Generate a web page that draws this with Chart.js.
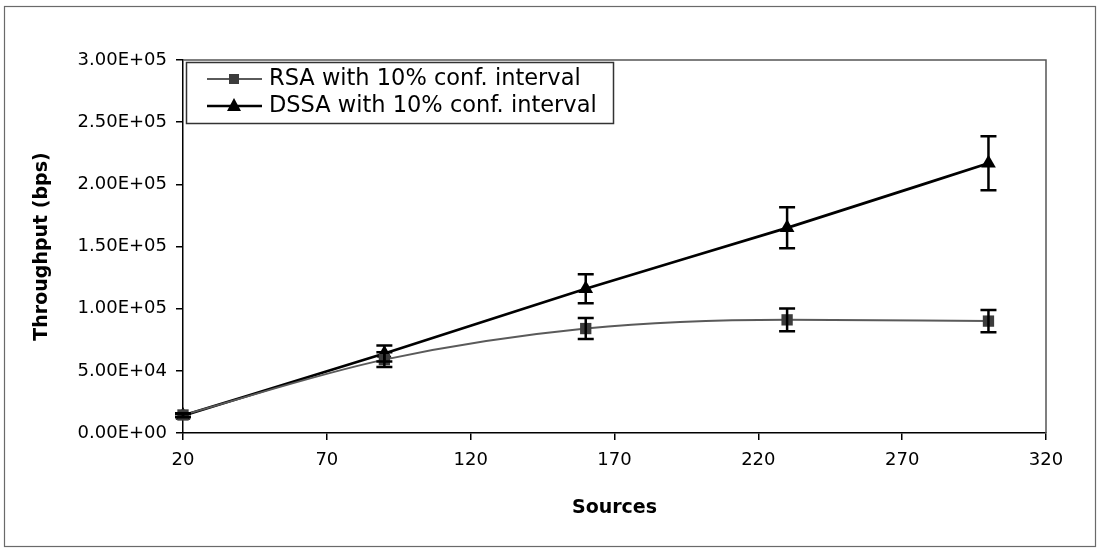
<!DOCTYPE html>
<html>
<head>
<meta charset="utf-8">
<script src="https://cdn.jsdelivr.net/npm/chart.js@4.4.1/dist/chart.umd.min.js"></script>
<style>
html,body{margin:0;padding:0;background:#fff;}
#wrap{width:1101px;height:552px;position:relative;}
canvas{display:block;}
</style>
</head>
<body>
<div id="wrap"><canvas id="c" width="1101" height="552"></canvas></div>
<script>
// ---- data ----
const sources = [20, 90, 160, 230, 300];
const rsaValues = [14500, 59000, 84000, 91000, 90000];
const rsaErrors = [1450, 5900, 8400, 9100, 9000];
const dssaValues = [14000, 64000, 116000, 165000, 217000];
const dssaErrors = [1400, 6400, 11600, 16500, 21700];
const xTicks = [20, 70, 120, 170, 220, 270, 320];
const yTicks = [0, 50000, 100000, 150000, 200000, 250000, 300000];
const seriesNames = ['RSA with 10% conf. interval', 'DSSA with 10% conf. interval'];
const xTitle = 'Sources';
const yTitle = 'Throughput (bps)';

function sci(v) {
  if (v === 0) return '0.00E+00';
  const e = Math.floor(Math.log10(v) + 1e-9);
  const m = v / Math.pow(10, e);
  return m.toFixed(2) + 'E+' + String(e).padStart(2, '0');
}

const FONT = 'DejaVu Sans';
const RSA_LINE = '#5a5a5a';
const RSA_FILL = '#3c3c3c';

const errorsByDataset = [rsaErrors, dssaErrors];

const decorPlugin = {
  id: 'decor',
  beforeDraw(chart) {
    const ctx = chart.ctx;
    ctx.save();
    ctx.fillStyle = '#fff';
    ctx.fillRect(0, 0, chart.width, chart.height);
    ctx.strokeStyle = '#6a6a6a';
    ctx.lineWidth = 1.2;
    ctx.strokeRect(4.5, 6.5, 1091, 540);
    ctx.restore();
  },
  beforeDatasetsDraw(chart) {
    const ctx = chart.ctx;
    const a = chart.chartArea;
    ctx.save();
    ctx.strokeStyle = '#555';
    ctx.lineWidth = 1.5;
    ctx.beginPath();
    ctx.moveTo(a.left, a.top);
    ctx.lineTo(a.right, a.top);
    ctx.lineTo(a.right, a.bottom);
    ctx.stroke();
    ctx.restore();
  },
  afterDatasetsDraw(chart) {
    const ctx = chart.ctx;
    const ys = chart.scales.y;
    ctx.save();
    ctx.strokeStyle = '#000';
    ctx.lineWidth = 2.5;
    chart.data.datasets.forEach((ds, di) => {
      const meta = chart.getDatasetMeta(di);
      const errs = errorsByDataset[di];
      meta.data.forEach((pt, i) => {
        const v = ds.data[i].y;
        const x = pt.x;
        const yt = ys.getPixelForValue(v + errs[i]);
        const yb = ys.getPixelForValue(v - errs[i]);
        ctx.beginPath();
        ctx.moveTo(x, yt); ctx.lineTo(x, yb);
        ctx.moveTo(x - 8, yt); ctx.lineTo(x + 8, yt);
        ctx.moveTo(x - 8, yb); ctx.lineTo(x + 8, yb);
        ctx.stroke();
      });
    });
    ctx.restore();
  },
  afterDraw(chart) {
    const ctx = chart.ctx;
    ctx.save();
    // legend box
    ctx.fillStyle = '#fff';
    ctx.fillRect(186.5, 62.5, 427, 61);
    ctx.strokeStyle = '#333';
    ctx.lineWidth = 1.5;
    ctx.strokeRect(186.5, 62.5, 427, 61);
    const rows = [79, 106];
    const mx = 234;
    // RSA row
    ctx.strokeStyle = RSA_LINE; ctx.lineWidth = 2;
    ctx.beginPath(); ctx.moveTo(207, rows[0]); ctx.lineTo(262, rows[0]); ctx.stroke();
    ctx.fillStyle = RSA_FILL;
    ctx.fillRect(mx - 5, rows[0] - 5, 10, 10);
    // DSSA row
    ctx.strokeStyle = '#000'; ctx.lineWidth = 2.5;
    ctx.beginPath(); ctx.moveTo(207, rows[1]); ctx.lineTo(262, rows[1]); ctx.stroke();
    ctx.fillStyle = '#000';
    ctx.beginPath();
    ctx.moveTo(mx, rows[1] - 8); ctx.lineTo(mx + 7, rows[1] + 5); ctx.lineTo(mx - 7, rows[1] + 5); ctx.closePath(); ctx.fill();
    ctx.fillStyle = '#000';
    ctx.font = '22.5px "' + FONT + '"';
    ctx.textBaseline = 'middle';
    ctx.textAlign = 'left';
    ctx.fillText(seriesNames[0], 269, rows[0]);
    ctx.fillText(seriesNames[1], 269, rows[1]);
    ctx.restore();
  }
};

const chart = new Chart(document.getElementById('c'), {
  type: 'line',
  data: {
    datasets: [
      {
        label: seriesNames[0],
        data: sources.map((s, i) => ({ x: s, y: rsaValues[i] })),
        borderColor: RSA_LINE,
        borderWidth: 2,
        backgroundColor: RSA_FILL,
        pointStyle: 'rect',
        pointRadius: 8,
        pointBorderWidth: 0,
        pointBackgroundColor: RSA_FILL,
        cubicInterpolationMode: 'monotone',
        clip: false
      },
      {
        label: seriesNames[1],
        data: sources.map((s, i) => ({ x: s, y: dssaValues[i] })),
        borderColor: '#000',
        borderWidth: 2.7,
        backgroundColor: '#000',
        pointStyle: 'triangle',
        pointRadius: 8.5,
        pointBorderWidth: 0,
        pointBackgroundColor: '#000',
        cubicInterpolationMode: 'monotone',
        clip: false
      }
    ]
  },
  options: {
    responsive: false,
    animation: false,
    devicePixelRatio: 1,
    layout: { padding: { left: 31, top: 60, right: 55, bottom: 33 } },
    plugins: { legend: { display: false }, tooltip: { enabled: false } },
    scales: {
      x: {
        type: 'linear',
        min: 20, max: 320,
        afterBuildTicks: s => { s.ticks = xTicks.map(v => ({ value: v })); },
        afterFit: s => { s.height = 86; },
        ticks: { color: '#000', font: { family: FONT, size: 18 }, padding: 10, maxRotation: 0, autoSkip: false },
        grid: { drawOnChartArea: false, drawTicks: true, tickLength: 7, color: '#000', lineWidth: 1.5 },
        border: { display: true, color: '#000', width: 1.5 },
        title: { display: true, text: xTitle, color: '#000', font: { family: FONT, size: 19, weight: 'bold' }, padding: 0 }
      },
      y: {
        type: 'linear',
        min: 0, max: 300000,
        afterBuildTicks: s => { s.ticks = yTicks.map(v => ({ value: v })); },
        afterFit: s => { s.width = 152; },
        ticks: { color: '#000', font: { family: FONT, size: 18 }, padding: 9, callback: v => sci(v), autoSkip: false },
        grid: { drawOnChartArea: false, drawTicks: true, tickLength: 7, color: '#000', lineWidth: 1.5 },
        border: { display: true, color: '#000', width: 1.5 },
        title: { display: true, text: yTitle, color: '#000', font: { family: FONT, size: 19, weight: 'bold' }, padding: 0 }
      }
    }
  },
  plugins: [decorPlugin]
});
</script>
</body>
</html>
